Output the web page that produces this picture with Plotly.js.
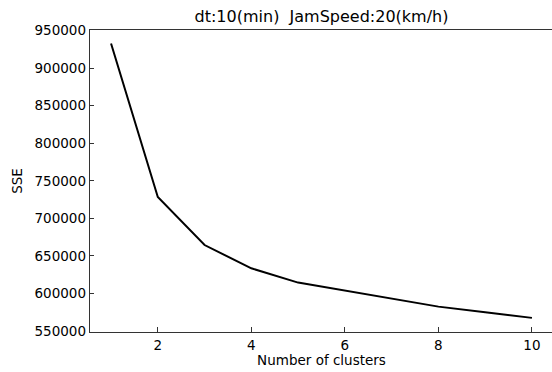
<!DOCTYPE html>
<html>
<head>
<meta charset="utf-8">
<script src="https://cdn.plot.ly/plotly-3.0.1.min.js"></script>
<style>
html,body{margin:0;padding:0;overflow:hidden;background:#fff;}
#chart{width:560px;height:372px;}
</style>
</head>
<body>
<div id="chart"></div>
<script>
const clusters = [1, 2, 3, 4, 5, 6, 7, 8, 9, 10];
const sse = [933000, 728500, 664500, 633500, 614500, 603500, 592500, 582500, 575000, 567500];
const xTicks = [2, 4, 6, 8, 10];
const yTicks = [550000, 600000, 650000, 700000, 750000, 800000, 850000, 900000, 950000];
const titleText = 'dt:10(min)\u00a0\u00a0JamSpeed:20(km/h)';
const xLabel = 'Number of clusters';
const yLabel = 'SSE';

const font = {family: 'DejaVu Sans, sans-serif', size: 13.5, color: '#000'};

Plotly.newPlot('chart', [{
  x: clusters,
  y: sse,
  type: 'scatter',
  mode: 'lines',
  line: {color: '#000', width: 2},
  hoverinfo: 'none'
}], {
  width: 560,
  height: 372,
  margin: {l: 90, r: 6.6, t: 30, b: 40.3},
  paper_bgcolor: '#fff',
  plot_bgcolor: '#fff',
  showlegend: false,
  font: font,
  title: {text: titleText, font: {family: font.family, size: 16, color: '#000'}, xref: 'paper', x: 0.5, xanchor: 'center', yref: 'container', y: 0.955, yanchor: 'middle'},
  xaxis: {
    range: [0.55, 10.45],
    tickvals: xTicks,
    ticktext: xTicks.map(String),
    ticks: 'inside', ticklen: 5, tickwidth: 1, tickcolor: '#333',
    showline: true, linecolor: '#333', linewidth: 1.3, mirror: true,
    showgrid: false, zeroline: false,
    tickfont: font,
    title: {text: xLabel, font: font, standoff: 4}
  },
  yaxis: {
    range: [548700, 950900],
    tickvals: yTicks,
    ticktext: yTicks.map(String),
    ticks: 'inside', ticklen: 4, tickwidth: 1, tickcolor: '#333',
    showline: true, linecolor: '#333', linewidth: 1.3, mirror: true,
    showgrid: false, zeroline: false,
    tickfont: font,
    title: {text: yLabel, font: font, standoff: 8}
  }
}, {staticPlot: true, displayModeBar: false});
</script>
</body>
</html>
